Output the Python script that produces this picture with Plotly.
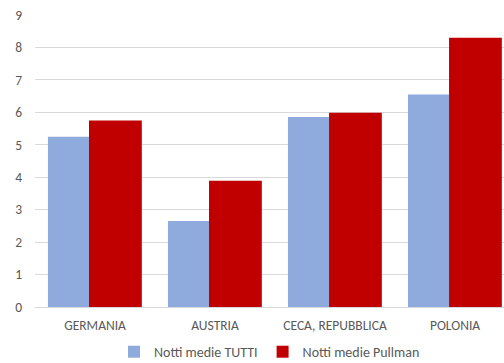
import plotly.graph_objects as go

categories = ["GERMANIA", "AUSTRIA", "CECA, REPUBBLICA", "POLONIA"]
notti_tutti = [5.25, 2.65, 5.86, 6.55]
notti_pullman = [5.75, 3.89, 5.99, 8.30]
y_ticks = [0, 1, 2, 3, 4, 5, 6, 7, 8, 9]

text_color = "#595959"
font_family = "Carlito, Lato, 'Noto Sans', sans-serif"

fig = go.Figure()
fig.add_trace(go.Bar(
    name="Notti medie TUTTI", x=categories, y=notti_tutti,
    marker=dict(color="#8FAADC", line=dict(width=0)),
    width=0.342, offset=-0.392,
))
fig.add_trace(go.Bar(
    name="Notti medie Pullman", x=categories, y=notti_pullman,
    marker=dict(color="#C00000", line=dict(width=0)),
    width=0.44, offset=-0.05,
))

fig.update_layout(
    width=504, height=363,
    margin=dict(l=35, r=0, t=15, b=56, autoexpand=False),
    paper_bgcolor="white", plot_bgcolor="white",
    barmode="overlay",
    font=dict(family=font_family, size=13.5, color=text_color),
    showlegend=True,
    legend=dict(orientation="h", x=0.5, xanchor="center",
                yref="container", y=0.03, yanchor="middle",
                font=dict(size=14, color=text_color), itemwidth=30,
                traceorder="normal"),
    xaxis=dict(range=[-0.5, 3.408], showgrid=False, showline=True,
               linecolor="#d9d9d9", linewidth=1, ticks="", tickfont=dict(size=13.5),
               ticklabelstandoff=6, fixedrange=True),
    yaxis=dict(range=[0, 9], tickvals=y_ticks, showgrid=True, gridcolor="#d9d9d9",
               gridwidth=1, zeroline=False, showline=False, ticks="",
               ticklabelstandoff=12, tickfont=dict(size=13.5)),
)

fig.write_html("out.html")
